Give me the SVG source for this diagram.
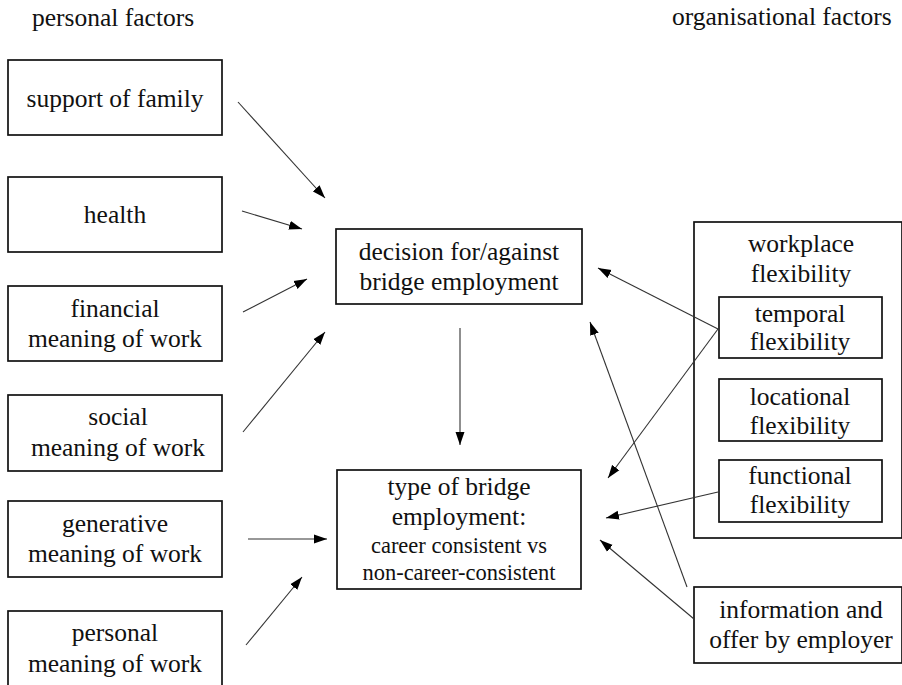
<svg xmlns="http://www.w3.org/2000/svg" width="902" height="685" viewBox="0 0 902 685" font-family="'Liberation Serif', 'DejaVu Serif', serif">
  <style>
    .box { fill: #ffffff; stroke: #111111; stroke-width: 1.7; }
    text { font-family: "Liberation Serif", "DejaVu Serif", serif; fill: #111111; }
    .lbl { font-size: 25.5px; text-anchor: middle; }
    .small { font-size: 22.5px; }
    .head { font-size: 25.5px; }
    .conn { stroke: #333333; stroke-width: 1.1; fill: none; marker-end: url(#arrow); }
  </style>
  <defs>
    <marker id="arrow" markerUnits="userSpaceOnUse" markerWidth="14" markerHeight="10" refX="13" refY="5" orient="auto">
      <path d="M0,0.5 L13,5 L0,9.5 z" fill="#000000"/>
    </marker>
  </defs>

  <rect width="902" height="685" fill="#ffffff"/>

  <!-- column headings -->
  <text class="head" x="32" y="26">personal factors</text>
  <text class="head" x="672" y="25">organisational factors</text>

  <!-- personal factor nodes -->
  <g id="support-of-family">
    <rect class="box" x="8" y="60" width="214" height="75"/>
    <text class="lbl" x="115" y="107">support of family</text>
  </g>
  <g id="health">
    <rect class="box" x="8" y="177" width="214" height="75"/>
    <text class="lbl" x="115" y="223">health</text>
  </g>
  <g id="financial-meaning">
    <rect class="box" x="8" y="286" width="214" height="75"/>
    <text class="lbl" x="115" y="317">financial</text>
    <text class="lbl" x="115" y="347">meaning of work</text>
  </g>
  <g id="social-meaning">
    <rect class="box" x="8" y="395" width="214" height="76"/>
    <text class="lbl" x="118" y="425">social</text>
    <text class="lbl" x="118" y="456">meaning of work</text>
  </g>
  <g id="generative-meaning">
    <rect class="box" x="8" y="501" width="214" height="76"/>
    <text class="lbl" x="115" y="532">generative</text>
    <text class="lbl" x="115" y="562">meaning of work</text>
  </g>
  <g id="personal-meaning">
    <rect class="box" x="8" y="611" width="214" height="80"/>
    <text class="lbl" x="115" y="641">personal</text>
    <text class="lbl" x="115" y="672">meaning of work</text>
  </g>

  <!-- central outcome nodes -->
  <g id="decision">
    <rect class="box" x="336" y="229" width="246" height="75"/>
    <text class="lbl" x="459" y="260">decision for/against</text>
    <text class="lbl" x="459" y="290">bridge employment</text>
  </g>
  <g id="type-of-bridge-employment">
    <rect class="box" x="337" y="470" width="244" height="119"/>
    <text class="lbl" x="459" y="495">type of bridge</text>
    <text class="lbl" x="459" y="525">employment:</text>
    <text class="lbl small" x="459" y="553">career consistent vs</text>
    <text class="lbl small" x="459" y="580">non-career-consistent</text>
  </g>

  <!-- organisational factor nodes -->
  <g id="workplace-flexibility">
    <rect class="box" x="694" y="222" width="208" height="316"/>
    <text class="lbl" x="801" y="252">workplace</text>
    <text class="lbl" x="801" y="282">flexibility</text>
  </g>
  <g id="temporal-flexibility">
    <rect class="box" x="719" y="297" width="163" height="61"/>
    <text class="lbl" x="800" y="322">temporal</text>
    <text class="lbl" x="800" y="350">flexibility</text>
  </g>
  <g id="locational-flexibility">
    <rect class="box" x="719" y="379" width="163" height="62"/>
    <text class="lbl" x="800" y="405">locational</text>
    <text class="lbl" x="800" y="434">flexibility</text>
  </g>
  <g id="functional-flexibility">
    <rect class="box" x="719" y="460" width="163" height="62"/>
    <text class="lbl" x="800" y="484">functional</text>
    <text class="lbl" x="800" y="513">flexibility</text>
  </g>
  <g id="information-offer">
    <rect class="box" x="694" y="587" width="208" height="76"/>
    <text class="lbl" x="801" y="618">information and</text>
    <text class="lbl" x="801" y="648">offer by employer</text>
  </g>

  <!-- connectors -->
  <g id="connectors">
    <line class="conn" x1="238" y1="102" x2="325" y2="198"/>
    <line class="conn" x1="242" y1="211" x2="302" y2="229"/>
    <line class="conn" x1="243" y1="312" x2="307" y2="279"/>
    <line class="conn" x1="243" y1="432" x2="325" y2="332"/>
    <line class="conn" x1="248" y1="539" x2="327" y2="539"/>
    <line class="conn" x1="246" y1="645" x2="302" y2="577"/>
    <line class="conn" x1="460" y1="328" x2="460" y2="445"/>
    <line class="conn" x1="718" y1="329" x2="598" y2="268"/>
    <line class="conn" x1="718" y1="329" x2="608" y2="478"/>
    <line class="conn" x1="718" y1="492" x2="606" y2="518"/>
    <line class="conn" x1="687" y1="587" x2="590" y2="322"/>
    <line class="conn" x1="694" y1="619" x2="600" y2="540"/>
  </g>
</svg>
